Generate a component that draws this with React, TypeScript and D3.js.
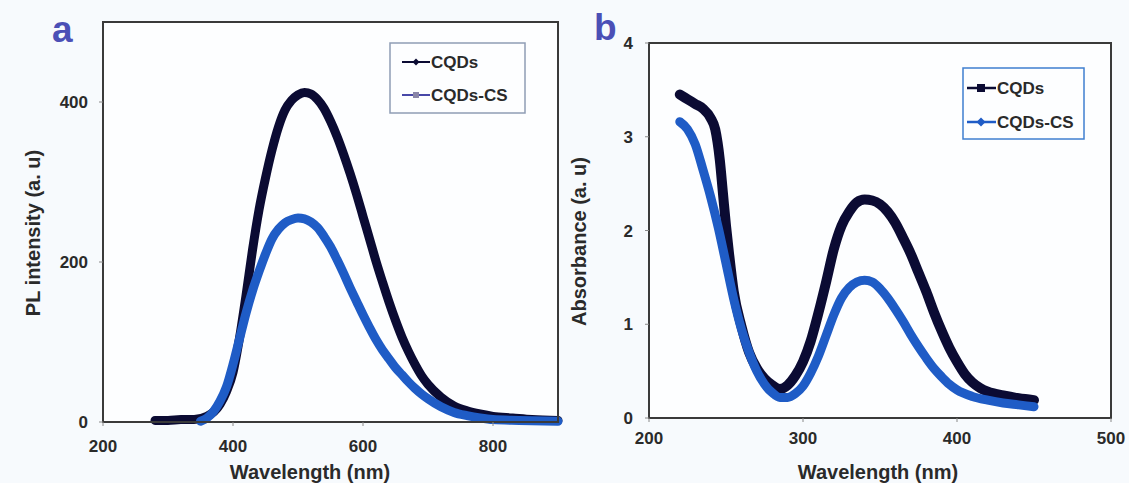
import React from "react";
import * as d3 from "d3";

// ---------- Panel a: PL spectra ----------
const plCqdsWl = [280, 300, 320, 340, 360, 380, 390, 400, 410, 420, 430, 440, 450, 460, 470, 480, 490, 500, 510, 520, 530, 540, 550, 560, 570, 580, 590, 600, 610, 620, 630, 640, 650, 660, 670, 680, 690, 700, 720, 740, 760, 780, 800, 830, 860, 900];
const plCqdsVal = [2, 2, 3, 3, 7, 22, 38, 62, 105, 158, 215, 265, 305, 340, 369, 390, 402, 409, 412, 410, 403, 392, 376, 357, 335, 311, 285, 257, 229, 201, 175, 150, 127, 106, 88, 72, 58, 47, 31, 20, 14, 10, 7, 5, 3, 2];
const plCsWl = [350, 360, 370, 380, 390, 400, 410, 420, 430, 440, 450, 460, 470, 480, 490, 500, 510, 520, 530, 540, 550, 560, 570, 580, 590, 600, 610, 620, 630, 640, 650, 660, 670, 680, 690, 700, 720, 740, 760, 780, 800, 840, 900];
const plCsVal = [1, 5, 13, 26, 44, 72, 104, 136, 164, 188, 210, 229, 241, 249, 253, 255, 254, 250, 243, 232, 219, 203, 186, 168, 151, 134, 118, 103, 90, 79, 68, 59, 50, 42, 35, 29, 19, 12, 8, 5, 3, 2, 1];
const plXTicks = [200, 400, 600, 800];
const plYTicks = [0, 200, 400];

// ---------- Panel b: absorbance ----------
const abCqdsWl = [220, 225, 230, 235, 240, 243, 246, 248, 250, 252, 255, 260, 265, 270, 275, 280, 285, 290, 295, 300, 305, 310, 315, 320, 325, 330, 335, 340, 345, 350, 355, 360, 365, 370, 375, 380, 385, 390, 395, 400, 405, 410, 415, 420, 430, 440, 450];
const abCqdsVal = [3.45, 3.4, 3.35, 3.3, 3.2, 3.08, 2.75, 2.4, 2.05, 1.75, 1.35, 0.98, 0.7, 0.53, 0.42, 0.35, 0.31, 0.35, 0.45, 0.6, 0.82, 1.12, 1.45, 1.8, 2.05, 2.2, 2.3, 2.33, 2.32, 2.28, 2.2, 2.08, 1.92, 1.75, 1.55, 1.35, 1.13, 0.93, 0.75, 0.6, 0.47, 0.38, 0.32, 0.28, 0.24, 0.21, 0.19];
const abCsWl = [220, 225, 230, 235, 240, 245, 250, 255, 260, 265, 270, 275, 280, 285, 290, 295, 300, 305, 310, 315, 320, 325, 330, 335, 340, 345, 350, 355, 360, 365, 370, 375, 380, 385, 390, 395, 400, 410, 420, 430, 440, 450];
const abCsVal = [3.16, 3.08, 2.92, 2.65, 2.36, 2.03, 1.65, 1.27, 0.95, 0.7, 0.5, 0.36, 0.27, 0.22, 0.22, 0.26, 0.34, 0.48, 0.66, 0.88, 1.1, 1.28, 1.39, 1.45, 1.47, 1.45, 1.38, 1.28, 1.16, 1.03, 0.89, 0.76, 0.64, 0.53, 0.44, 0.36, 0.3, 0.23, 0.19, 0.16, 0.14, 0.12];
const abXTicks = [200, 300, 400, 500];
const abYTicks = [0, 1, 2, 3, 4];

const seriesNames = ["CQDs", "CQDs-CS"];

const DARK = "#0b0b33";
const BLUE = "#1f5cc6";
const AXIS = "#3a3a3a";
const FONT = "'Liberation Sans', Arial, sans-serif";

type Pt = [number, number];
const zip = (a: number[], b: number[]): Pt[] => a.map((v, i) => [v, b[i]]);

function Panel(props: {
  x0: number; x1: number; y0: number; y1: number;
  xDomain: [number, number]; yDomain: [number, number];
  xTicks: number[]; yTicks: number[];
  series: { pts: Pt[]; color: string; width: number }[];
  yTitle: string; xTitleX: number; label: string; labelX: number; labelY: number;
  xTickY: number; yTickRight: number;
}) {
  const x = d3.scaleLinear().domain(props.xDomain).range([props.x0, props.x1]);
  const y = d3.scaleLinear().domain(props.yDomain).range([props.y0, props.y1]);
  const line = d3.line<Pt>().x((d) => x(d[0])).y((d) => y(d[1])).curve(d3.curveMonotoneX);
  const midY = (props.y0 + props.y1) / 2;
  return (
    <g>
      <rect x={props.x0} y={props.y1} width={props.x1 - props.x0} height={props.y0 - props.y1} fill="#fdfeff" />
      {props.series.map((s, i) => (
        <path key={i} d={line(s.pts) || ""} fill="none" stroke={s.color} strokeWidth={s.width} strokeLinejoin="round" strokeLinecap="round" />
      ))}
      <rect x={props.x0} y={props.y1} width={props.x1 - props.x0} height={props.y0 - props.y1} fill="none" stroke={AXIS} strokeWidth={2} />
      {props.xTicks.map((t) => (
        <g key={"x" + t}>
          <line x1={x(t)} x2={x(t)} y1={props.y0} y2={props.y0 + 4} stroke="#888" strokeWidth={1} />
          <text x={x(t)} y={props.xTickY} textAnchor="middle" fontFamily={FONT} fontWeight="bold" fontSize={17} fill="#2a2a2a">{t}</text>
        </g>
      ))}
      {props.yTicks.map((t) => (
        <g key={"y" + t}>
          <line x1={props.x0 - 4} x2={props.x0} y1={y(t)} y2={y(t)} stroke="#888" strokeWidth={1} />
          <text x={props.yTickRight} y={y(t) + 6} textAnchor="end" fontFamily={FONT} fontWeight="bold" fontSize={17} fill="#2a2a2a">{t}</text>
        </g>
      ))}
      <text transform={`translate(${props.x0 - 63},${midY + 11}) rotate(-90)`} textAnchor="middle" fontFamily={FONT} fontWeight="bold" fontSize={20} fill="#2a2a2a">{props.yTitle}</text>
      <text x={props.xTitleX} y={479} textAnchor="middle" fontFamily={FONT} fontWeight="bold" fontSize={20} fill="#2a2a2a">Wavelength (nm)</text>
      <text x={props.labelX} y={props.labelY} fontFamily={FONT} fontWeight="bold" fontSize={37} fill="#4b4fb6">{props.label}</text>
    </g>
  );
}

function Diamond({ cx, cy, r, fill }: { cx: number; cy: number; r: number; fill: string }) {
  return <path d={`M${cx},${cy - r}L${cx + r},${cy}L${cx},${cy + r}L${cx - r},${cy}Z`} fill={fill} />;
}

export default function App() {
  return (
    <div style={{ position: "absolute", left: 0, top: 0 }}>
      <svg width={1129} height={483} style={{ display: "block" }}>
        <rect width={1129} height={483} fill="#f7fafd" />
        <Panel
          x0={103} x1={558} y0={422} y1={22}
          xDomain={[200, 900]} yDomain={[0, 500]}
          xTicks={plXTicks} yTicks={plYTicks}
          series={[
            { pts: zip(plCqdsWl, plCqdsVal), color: DARK, width: 9 },
            { pts: zip(plCsWl, plCsVal), color: BLUE, width: 9 },
          ]}
          yTitle="PL intensity (a. u)" xTitleX={310} label="a" labelX={52} labelY={42}
          xTickY={452} yTickRight={88}
        />
        <Panel
          x0={649} x1={1111} y0={418} y1={43}
          xDomain={[200, 500]} yDomain={[0, 4]}
          xTicks={abXTicks} yTicks={abYTicks}
          series={[
            { pts: zip(abCqdsWl, abCqdsVal), color: DARK, width: 10 },
            { pts: zip(abCsWl, abCsVal), color: BLUE, width: 9 },
          ]}
          yTitle="Absorbance (a. u)" xTitleX={878} label="b" labelX={594} labelY={40}
          xTickY={444} yTickRight={633}
        />
        {/* Legend a */}
        <g>
          <rect x={390} y={43} width={135} height={70} fill="#fdfeff" stroke="#8f9db5" strokeWidth={1.5} />
          <line x1={402} x2={430} y1={62} y2={62} stroke={DARK} strokeWidth={2} />
          <Diamond cx={416} cy={62} r={3.5} fill={DARK} />
          <text x={431} y={68} fontFamily={FONT} fontWeight="bold" fontSize={17} fill="#2a2a2a">{seriesNames[0]}</text>
          <line x1={402} x2={430} y1={95} y2={95} stroke="#4848a8" strokeWidth={2} />
          <rect x={413} y={92} width={6} height={6} fill="#8a86a8" />
          <text x={431} y={101} fontFamily={FONT} fontWeight="bold" fontSize={17} fill="#2a2a2a">{seriesNames[1]}</text>
        </g>
        {/* Legend b */}
        <g>
          <rect x={963} y={68} width={121} height={71} fill="#fdfeff" stroke="#3f7fd0" strokeWidth={1.5} />
          <line x1={967} x2={996} y1={88} y2={88} stroke={DARK} strokeWidth={2.5} />
          <rect x={977} y={84} width={8} height={8} fill={DARK} />
          <text x={997} y={94} fontFamily={FONT} fontWeight="bold" fontSize={17} fill="#2a2a2a">{seriesNames[0]}</text>
          <line x1={967} x2={996} y1={122} y2={122} stroke={BLUE} strokeWidth={2.5} />
          <Diamond cx={981} cy={122} r={4.5} fill={BLUE} />
          <text x={997} y={128} fontFamily={FONT} fontWeight="bold" fontSize={17} fill="#2a2a2a">{seriesNames[1]}</text>
        </g>
      </svg>
    </div>
  );
}
